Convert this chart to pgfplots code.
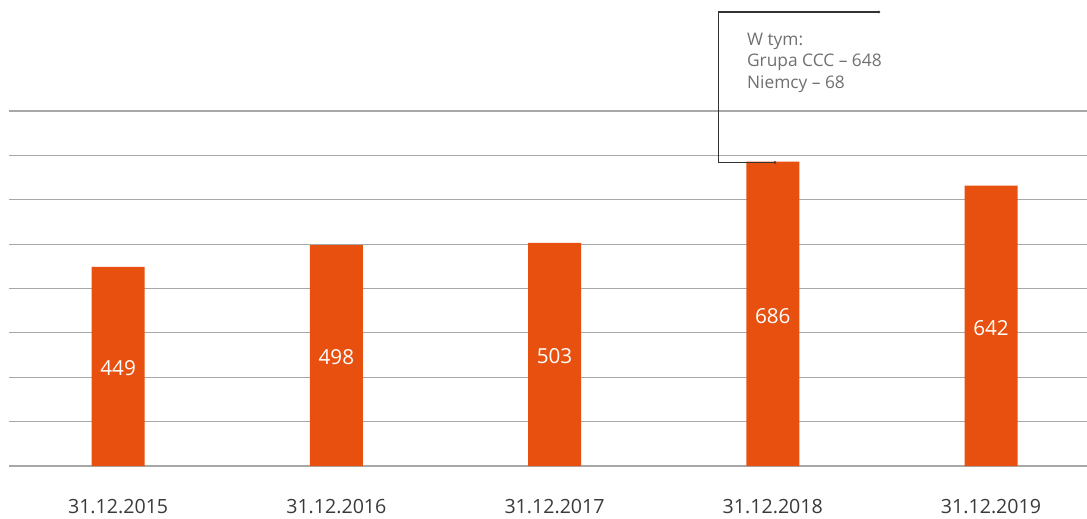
\documentclass[border=0pt]{standalone}
\usepackage{pgfplots}
\pgfplotsset{compat=1.18}
\usepackage{fontspec}
\setmainfont{Open Sans}
\definecolor{barc}{HTML}{E8500F}
\definecolor{gridc}{HTML}{A8A8A8}
\definecolor{labc}{HTML}{3A3A3A}
\definecolor{annc}{HTML}{333333}
\definecolor{anntext}{HTML}{707070}
\begin{document}
\begin{tikzpicture}[x=0.75pt,y=0.75pt]
\path[use as bounding box] (-9,-52) rectangle (1078,466);
\begin{axis}[
  at={(0,0)}, anchor=south west,
  scale only axis, width=808.5pt, height=266.25pt,
  xmin=-0.5, xmax=4.44, ymin=0, ymax=800,
  clip=false,
  axis line style={draw=none},
  major tick length=0pt,
  ytick={0,100,...,800}, yticklabels={},
  ymajorgrids, grid style={color=gridc, line width=0.8pt},
  xtick={0,1,2,3,4},
  xticklabels={31.12.2015,31.12.2016,31.12.2017,31.12.2018,31.12.2019},
  xticklabel style={anchor=center, yshift=-30.5pt, text=labc, font=\fontsize{14.7}{17}\selectfont},
  ybar, bar width=39.75pt,
  /pgf/number format/assume math mode=true,
]
\addplot[fill=barc, draw=none,
  point meta=explicit,
  nodes near coords,
  visualization depends on=rawy \as \rawy,
  every node near coord/.append style={anchor=center, yshift=-1.5pt, shift={(axis direction cs:0,-\rawy/2)}, text=white, font=\fontsize{15.5}{18}\selectfont}]
  coordinates {(0,449) [449] (1,498) [498] (2,503) [503] (3,686) [686] (4,632) [642]};
\draw[annc, line width=0.9pt] (axis cs:3.486,1023) -- (axis cs:2.752,1023) -- (axis cs:2.752,684) -- (axis cs:3.01,684);
\fill[annc] (axis cs:3.486,1023) circle (1.1pt);
\fill[annc] (axis cs:3.01,684) circle (1.1pt);
\node[anchor=base west, inner sep=0pt, text=anntext, font=\fontsize{13}{16}\selectfont] at (axis cs:2.881,948.7) {W tym:};
\node[anchor=base west, inner sep=0pt, text=anntext, font=\fontsize{13}{16}\selectfont] at (axis cs:2.881,899.2) {Grupa CCC – 648};
\node[anchor=base west, inner sep=0pt, text=anntext, font=\fontsize{13}{16}\selectfont] at (axis cs:2.881,851.8) {Niemcy – 68};
\end{axis}
\end{tikzpicture}
\end{document}
